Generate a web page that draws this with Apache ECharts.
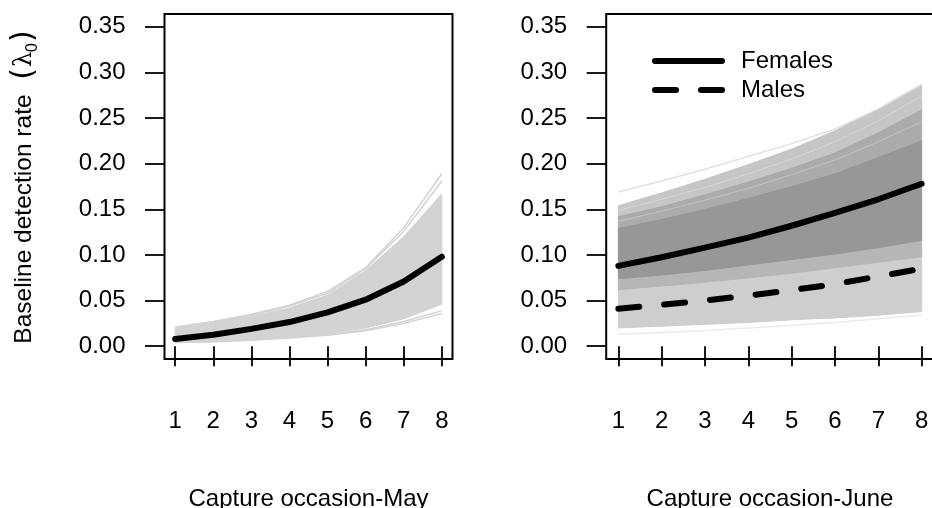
<!DOCTYPE html>
<html>
<head>
<meta charset="utf-8">
<script src="https://cdn.jsdelivr.net/npm/echarts@6/dist/echarts.min.js"></script>
<style>
  html, body { margin: 0; padding: 0; background: #fff; }
  #chart { width: 932px; height: 508px; }
</style>
</head>
<body>
<div id="chart"></div>
<script>
// ---------------- data ----------------
const occasions = [1, 2, 3, 4, 5, 6, 7, 8];
const yTicks = [0, 0.05, 0.10, 0.15, 0.20, 0.25, 0.30, 0.35];

// May panel
const mayMean     = [0.008, 0.0125, 0.019, 0.0265, 0.037, 0.051, 0.071, 0.098];
const mayBandLow  = [0.004, 0.005, 0.007, 0.010, 0.014, 0.020, 0.030, 0.046];
const mayBandHigh = [0.020, 0.026, 0.033, 0.042, 0.056, 0.083, 0.120, 0.167];
const mayTopLine1 = [0.021, 0.027, 0.035, 0.045, 0.060, 0.086, 0.130, 0.189];
const mayTopLine2 = [0.0205, 0.0265, 0.034, 0.044, 0.058, 0.085, 0.126, 0.181];
const mayLowLine1 = [0.004, 0.005, 0.0065, 0.009, 0.012, 0.017, 0.025, 0.036];
const mayLowLine2 = [0.0045, 0.0055, 0.007, 0.0095, 0.013, 0.018, 0.027, 0.039];

// June panel
const juneFemaleMean = [0.088, 0.0975, 0.108, 0.119, 0.132, 0.146, 0.161, 0.178];
const juneMaleMean   = [0.041, 0.0455, 0.050, 0.0555, 0.0615, 0.068, 0.0765, 0.085];
const juneMaleLow    = [0.020, 0.022, 0.024, 0.026, 0.029, 0.031, 0.034, 0.038];
const juneFemaleLow  = [0.062, 0.066, 0.070, 0.075, 0.080, 0.086, 0.092, 0.098];
const juneCoreLow    = [0.074, 0.078, 0.083, 0.089, 0.095, 0.101, 0.108, 0.116];
const juneCoreHigh   = [0.130, 0.140, 0.151, 0.163, 0.176, 0.190, 0.208, 0.226];
const juneUpperMid   = [0.143, 0.154, 0.167, 0.181, 0.196, 0.213, 0.235, 0.260];
const juneFemaleHigh = [0.154, 0.168, 0.183, 0.199, 0.216, 0.236, 0.260, 0.287];
const juneTopLine    = [0.169, 0.181, 0.194, 0.208, 0.222, 0.238, 0.260, 0.287];
const juneFaintLow   = [0.013, 0.015, 0.017, 0.020, 0.023, 0.026, 0.030, 0.034];
const juneStreak1    = [0.149, 0.161, 0.174, 0.189, 0.205, 0.224, 0.247, 0.274];
const juneStreak2    = [0.137, 0.148, 0.160, 0.173, 0.188, 0.204, 0.224, 0.246];

const xTitles = ['Capture occasion-May', 'Capture occasion-June'];
const legendNames = ['Females', 'Males'];

// ---------------- helpers ----------------
const FONT = '"Liberation Sans", Arial, Helvetica, sans-serif';
const pairs = arr => occasions.map((x, i) => [x, arr[i]]);

function band(lower, upper, color, axis) {
  return {
    type: 'custom', xAxisIndex: axis, yAxisIndex: axis, silent: true, z: 1,
    data: occasions.map((x, i) => [x, lower[i], upper[i]]),
    encode: { x: 0, y: [1, 2] },
    renderItem: function (params, api) {
      if (params.dataIndexInside !== 0) return null;
      const n = params.dataInsideLength;
      const top = [], bot = [];
      for (let i = 0; i < n; i++) {
        top.push(api.coord([api.value(0, i), api.value(2, i)]));
        bot.push(api.coord([api.value(0, i), api.value(1, i)]));
      }
      return { type: 'polygon', shape: { points: top.concat(bot.reverse()) },
               style: { fill: color, stroke: color, lineWidth: 1 } };
    }
  };
}
function thin(arr, color, width, axis) {
  return { type: 'line', xAxisIndex: axis, yAxisIndex: axis, data: pairs(arr), symbol: 'none',
    lineStyle: { color: color, width: width }, silent: true, z: 2 };
}

function xAxis(idx, min, max) {
  return {
    type: 'value', gridIndex: idx, min: min, max: max,
    name: xTitles[idx], nameLocation: 'middle', nameGap: 128,
    nameTextStyle: { fontFamily: FONT, fontSize: 24, color: '#000' },
    axisLine: { show: false },
    axisTick: { show: true, customValues: occasions, length: 20, inside: false,
      lineStyle: { color: '#000', width: 1.8 } },
    axisLabel: { show: true, customValues: occasions, margin: 50,
      fontFamily: FONT, fontSize: 24, color: '#000' },
    splitLine: { show: false }
  };
}
function yAxis(idx) {
  const ax = {
    type: 'value', gridIndex: idx, min: -0.014, max: 0.364,
    axisLine: { show: false },
    axisTick: { show: true, customValues: yTicks, length: 19.5, inside: false,
      lineStyle: { color: '#000', width: 1.8 } },
    axisLabel: { show: true, customValues: yTicks, margin: 39,
      formatter: v => v.toFixed(2), fontFamily: FONT, fontSize: 24, color: '#000' },
    splitLine: { show: false }
  };
  if (idx === 0) {
    ax.name = 'Baseline detection rate  {p|(}{l|λ}{s|0}{p|)}';
    ax.nameLocation = 'middle';
    ax.nameGap = 124;
    ax.nameRotate = 90;
    ax.nameTextStyle = {
      fontFamily: FONT, fontSize: 24.5, color: '#000', lineHeight: 32,
      rich: {
        p: { fontFamily: '"DejaVu Sans", sans-serif', fontSize: 30, color: '#000', lineHeight: 32, padding: [0, 1, 0, 1] },
        l: { fontFamily: '"DejaVu Serif", serif', fontSize: 24, color: '#000', lineHeight: 32 },
        s: { fontFamily: FONT, fontSize: 16, color: '#000', lineHeight: 24, verticalAlign: 'bottom' }
      }
    };
  }
  return ax;
}

const series = [
  // May
  band(mayBandLow, mayBandHigh, '#d3d3d3', 0),
  thin(mayTopLine1, '#d3d3d3', 1.5, 0), thin(mayTopLine2, '#d3d3d3', 1.5, 0),
  thin(mayLowLine1, '#d3d3d3', 1.5, 0), thin(mayLowLine2, '#d3d3d3', 1.5, 0),
  { type: 'line', xAxisIndex: 0, yAxisIndex: 0, data: pairs(mayMean),
    symbol: 'none', lineStyle: { color: '#000', width: 6, cap: 'round', join: 'round' }, z: 5 },
  // June
  thin(juneFaintLow, '#ececec', 1.5, 1),
  band(juneMaleLow, juneFemaleLow, '#cecece', 1),
  band(juneFemaleLow, juneCoreLow, '#b6b6b6', 1),
  band(juneCoreLow, juneCoreHigh, '#979797', 1),
  band(juneCoreHigh, juneUpperMid, '#ababab', 1),
  band(juneUpperMid, juneFemaleHigh, '#c6c6c6', 1),
  thin(juneStreak1, '#d6d6d6', 1, 1), thin(juneStreak2, '#c2c2c2', 1, 1),
  thin(juneTopLine, '#e0e0e0', 1.5, 1),
  { type: 'line', name: legendNames[0], xAxisIndex: 1, yAxisIndex: 1, data: pairs(juneFemaleMean),
    symbol: 'none', itemStyle: { color: '#000' },
    lineStyle: { color: '#000', width: 6, cap: 'round', join: 'round' }, z: 5 },
  { type: 'line', name: legendNames[1], xAxisIndex: 1, yAxisIndex: 1, data: pairs(juneMaleMean),
    symbol: 'none', itemStyle: { color: '#000' },
    lineStyle: { color: '#000', width: 6, cap: 'round', join: 'round', type: [21, 25] }, z: 5 }
];

const option = {
  animation: false,
  backgroundColor: '#fff',
  grid: [
    { left: 164.5, top: 14, width: 288, height: 345, show: true, borderColor: '#000', borderWidth: 2,
      backgroundColor: 'transparent', outerBoundsMode: 'none', containLabel: false },
    { left: 606.2, top: 14, width: 327.6, height: 345, show: true, borderColor: '#000', borderWidth: 2,
      backgroundColor: 'transparent', outerBoundsMode: 'none', containLabel: false }
  ],
  xAxis: [xAxis(0, 0.72, 8.28), xAxis(1, 0.72, 8.28)],
  yAxis: [yAxis(0), yAxis(1)],
  legend: {
    data: [
      { name: legendNames[0], icon: 'path://M3,0H70A3,3 0 0 1 70,6H3A3,3 0 0 1 3,0Z' },
      { name: legendNames[1], icon: 'path://M3,0H24A3,3 0 0 1 24,6H3A3,3 0 0 1 3,0ZM49,0H70A3,3 0 0 1 70,6H49A3,3 0 0 1 49,0Z' }
    ],
    orient: 'vertical', left: 647, top: 44,
    itemWidth: 73, itemHeight: 6, itemGap: 5,
    itemStyle: { color: '#000', borderWidth: 0 },
    textStyle: { fontFamily: FONT, fontSize: 24, color: '#000', lineHeight: 24, padding: [0, 0, 0, 11] },
    selectedMode: false
  },
  series: series
};

const chart = echarts.init(document.getElementById('chart'), null, { renderer: 'canvas' });
chart.setOption(option);
</script>
</body>
</html>
